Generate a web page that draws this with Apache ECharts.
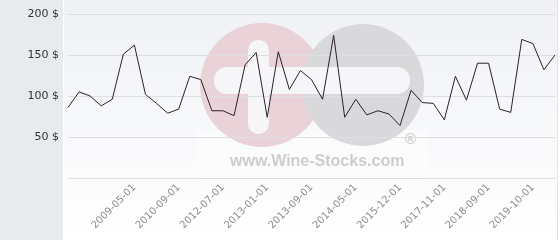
<!DOCTYPE html>
<html>
<head>
<meta charset="utf-8">
<script src="https://cdn.jsdelivr.net/npm/echarts@6/dist/echarts.min.js"></script>
<style>
html,body{margin:0;padding:0;background:#fff;}
#chart{width:560px;height:240px;}
</style>
</head>
<body>
<div id="chart"></div>
<script>
// Category labels (only the labelled observation dates are known)
const categories = [
  '', '', '', '', '', '', '2009-05-01', '', '', '',
  '2010-09-01', '', '', '', '2012-07-01', '', '', '', '2013-01-01', '',
  '', '', '2013-09-01', '', '', '', '2014-05-01', '', '', '',
  '2015-12-01', '', '', '', '2017-11-01', '', '', '', '2018-09-01', '',
  '', '', '2019-10-01', '', ''
];
// Price values ($)
const prices = [
  86, 105, 100, 88, 96, 151, 162, 102, 91, 79,
  84, 124, 120, 82, 82, 76, 138, 153, 74, 154,
  108, 131, 120, 96, 174, 74, 96, 77, 82, 78,
  64, 107, 92, 91, 71, 124, 95, 140, 140, 84,
  80, 169, 164, 132, 150
];
// Y-axis tick values
const yTicks = [0, 50, 100, 150, 200];

const chart = echarts.init(document.getElementById('chart'));
const option = {
  animation: false,
  graphic: [
    { type: 'rect', z: -20, shape: { x: 0, y: 0, width: 63, height: 240 }, style: { fill: '#e7ebee' } },
    { type: 'rect', z: -20, shape: { x: 64, y: 0, width: 493, height: 240 },
      style: { fill: new echarts.graphic.LinearGradient(0, 0, 0, 1, [
        { offset: 0, color: '#eff1f5' }, { offset: 1, color: '#ffffff' }]) } },
    { type: 'rect', z: -20, shape: { x: 557, y: 0, width: 1, height: 240 }, style: { fill: '#e2e4e8' } },
    { type: 'rect', z: -19, shape: { x: 197, y: 130, width: 231, height: 48 }, style: { fill: 'rgba(255,255,255,0.35)' } },
    { type: 'circle', z: -18, shape: { cx: 262, cy: 85, r: 62 }, style: { fill: '#e9d3d9' } },
    { type: 'circle', z: -17, shape: { cx: 363, cy: 85, r: 61 }, style: { fill: '#d9d9db' } },
    { type: 'rect', z: -16, shape: { x: 214, y: 67, width: 196, height: 27, r: 13 }, style: { fill: '#f6f6f8' } },
    { type: 'rect', z: -16, shape: { x: 248, y: 40, width: 21, height: 94, r: 10 }, style: { fill: '#f6f6f8' } },
    { type: 'text', z: -15, x: 230, y: 154, style: { text: 'www.Wine-Stocks.com', font: 'bold 16px "Liberation Sans", Arial, sans-serif', fill: '#cdcdcd' } },
    { type: 'text', z: -15, x: 405, y: 132, style: { text: '®', font: 'bold 15px "Liberation Sans", Arial, sans-serif', fill: '#cdcdcd' } }
  ],
  grid: { left: 68, right: 5, top: 14, bottom: 62, containLabel: false },
  xAxis: {
    type: 'category',
    data: categories,
    boundaryGap: false,
    axisLine: { show: false },
    axisTick: { show: false },
    splitLine: { show: false },
    axisLabel: {
      interval: 0,
      rotate: 45,
      margin: 8,
      color: '#8c8c8c',
      fontSize: 10,
      fontFamily: 'DejaVu Sans'
    }
  },
  yAxis: {
    type: 'value',
    min: yTicks[0],
    max: yTicks[yTicks.length - 1],
    interval: 50,
    axisLine: { show: false },
    axisTick: { show: false },
    splitLine: { lineStyle: { color: '#dedfe2', width: 1 } },
    axisLabel: {
      margin: 9,
      color: '#333333',
      fontSize: 11,
      fontFamily: 'DejaVu Sans',
      formatter: v => (v === 0 ? '' : v + ' $')
    }
  },
  series: [{
    type: 'line',
    data: prices,
    showSymbol: false,
    symbol: 'none',
    lineStyle: { color: '#2e1f29', width: 1 },
    z: 5
  }]
};
chart.setOption(option);
</script>
</body>
</html>
